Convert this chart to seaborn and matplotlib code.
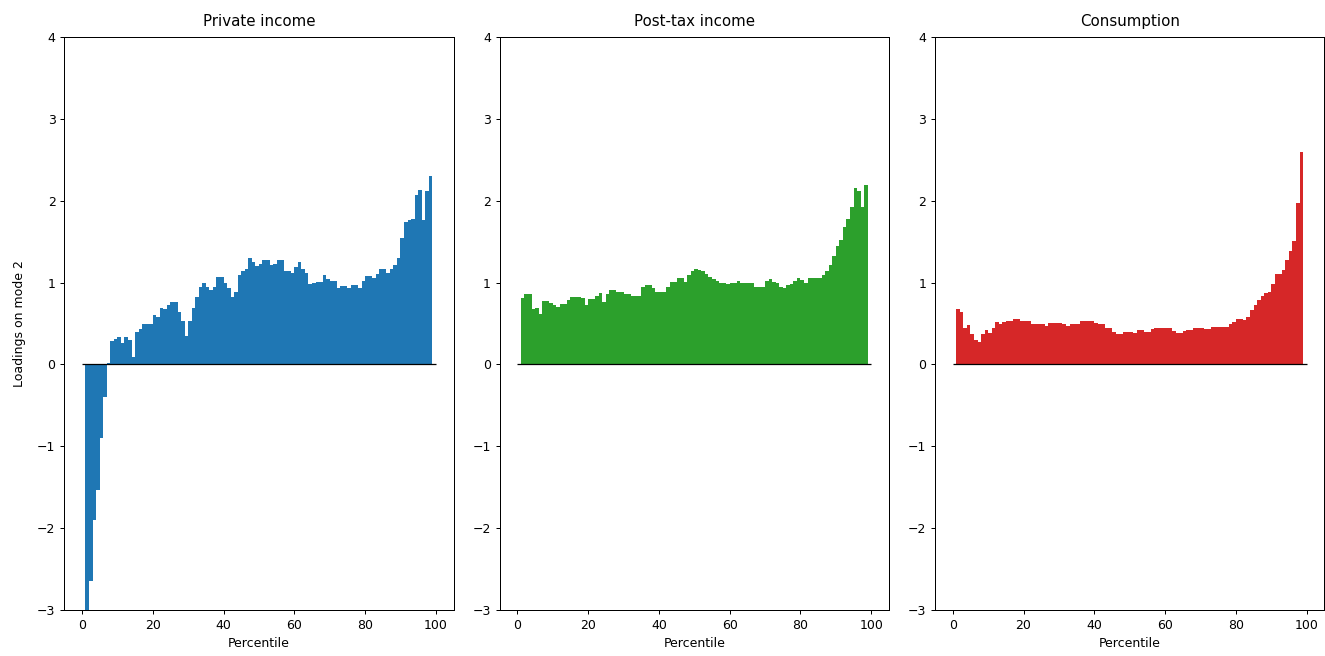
import numpy as np
import matplotlib
matplotlib.use("Agg")
import matplotlib.pyplot as plt
import seaborn as sns

# percentiles 1..98, one bar each
percentile = np.arange(1, 99)

private_income = [
    -3.20, -2.65, -1.90, -1.54, -0.90, -0.40, 0.02, 0.29, 0.31, 0.33,
    0.26, 0.33, 0.30, 0.09, 0.40, 0.43, 0.50, 0.50, 0.49, 0.60,
    0.58, 0.69, 0.68, 0.73, 0.76, 0.76, 0.64, 0.53, 0.35, 0.53,
    0.69, 0.82, 0.95, 1.00, 0.95, 0.91, 0.94, 1.07, 1.07, 0.99,
    0.93, 0.82, 0.88, 1.09, 1.14, 1.17, 1.30, 1.25, 1.20, 1.23,
    1.27, 1.27, 1.21, 1.23, 1.28, 1.27, 1.14, 1.14, 1.12, 1.19,
    1.25, 1.17, 1.12, 0.98, 0.99, 1.01, 1.01, 1.09, 1.04, 1.02,
    1.02, 0.93, 0.96, 0.96, 0.93, 0.97, 0.97, 0.93, 1.02, 1.08,
    1.08, 1.06, 1.11, 1.17, 1.17, 1.12, 1.17, 1.22, 1.30, 1.54,
    1.74, 1.77, 1.78, 2.07, 2.13, 1.76, 2.12, 2.30,
]

post_tax_income = [
    0.81, 0.86, 0.86, 0.68, 0.69, 0.62, 0.77, 0.77, 0.75, 0.73,
    0.70, 0.74, 0.74, 0.79, 0.82, 0.82, 0.82, 0.81, 0.73, 0.80,
    0.80, 0.84, 0.87, 0.76, 0.86, 0.91, 0.91, 0.89, 0.89, 0.86,
    0.86, 0.84, 0.84, 0.84, 0.95, 0.97, 0.97, 0.93, 0.89, 0.88,
    0.89, 0.95, 1.01, 1.01, 1.06, 1.05, 1.01, 1.09, 1.14, 1.16,
    1.15, 1.14, 1.11, 1.07, 1.04, 1.02, 1.00, 1.00, 0.98, 1.00,
    1.00, 1.02, 1.00, 1.00, 0.99, 0.99, 0.95, 0.94, 0.94, 1.02,
    1.04, 1.01, 0.99, 0.95, 0.93, 0.97, 0.98, 1.02, 1.06, 1.03,
    0.99, 1.06, 1.06, 1.06, 1.06, 1.09, 1.14, 1.22, 1.33, 1.45,
    1.52, 1.68, 1.78, 1.92, 2.16, 2.12, 1.92, 2.19,
]

consumption = [
    0.68, 0.64, 0.45, 0.48, 0.37, 0.30, 0.27, 0.37, 0.42, 0.38,
    0.44, 0.52, 0.50, 0.52, 0.53, 0.53, 0.55, 0.55, 0.53, 0.53,
    0.53, 0.49, 0.49, 0.49, 0.49, 0.47, 0.51, 0.51, 0.51, 0.51,
    0.49, 0.47, 0.50, 0.50, 0.50, 0.53, 0.53, 0.53, 0.53, 0.51,
    0.49, 0.49, 0.45, 0.45, 0.40, 0.37, 0.37, 0.40, 0.40, 0.40,
    0.38, 0.42, 0.42, 0.40, 0.40, 0.43, 0.45, 0.45, 0.44, 0.45,
    0.45, 0.41, 0.39, 0.39, 0.41, 0.42, 0.42, 0.44, 0.44, 0.44,
    0.43, 0.43, 0.46, 0.46, 0.46, 0.46, 0.46, 0.49, 0.52, 0.55,
    0.55, 0.54, 0.58, 0.66, 0.72, 0.79, 0.84, 0.87, 0.88, 0.98,
    1.11, 1.11, 1.15, 1.27, 1.39, 1.51, 1.97, 2.60,
]

titles = ['Private income', 'Post-tax income', 'Consumption']
series = [private_income, post_tax_income, consumption]
colors = ['tab:blue', 'tab:green', 'tab:red']

fig, axes = plt.subplots(1, 3, figsize=(1325 / 90, 656 / 90), dpi=90)
fig.subplots_adjust(left=0.0485, right=0.9995, top=0.9436, bottom=0.0701,
                    wspace=0.1185)

for ax, title, vals, col in zip(axes, titles, series, colors):
    # bar k covers percentile k .. k+1
    sns.barplot(x=percentile + 0.5, y=vals, native_scale=True, width=1,
                color=col, saturation=1, linewidth=0, errorbar=None, ax=ax)
    ax.hlines(0, 0, 100, color='k', lw=1, zorder=5)
    ax.set_xlim(-5, 105)
    ax.set_ylim(-3, 4)
    ax.set_yticks(range(-3, 5))
    ax.set_xticks(range(0, 101, 20))
    ax.set_title(title, pad=9)
    ax.set_xlabel('Percentile')
    ax.set_ylabel('')

axes[0].set_ylabel('Loadings on mode 2', labelpad=9)

fig.savefig('out.png', dpi=90)
